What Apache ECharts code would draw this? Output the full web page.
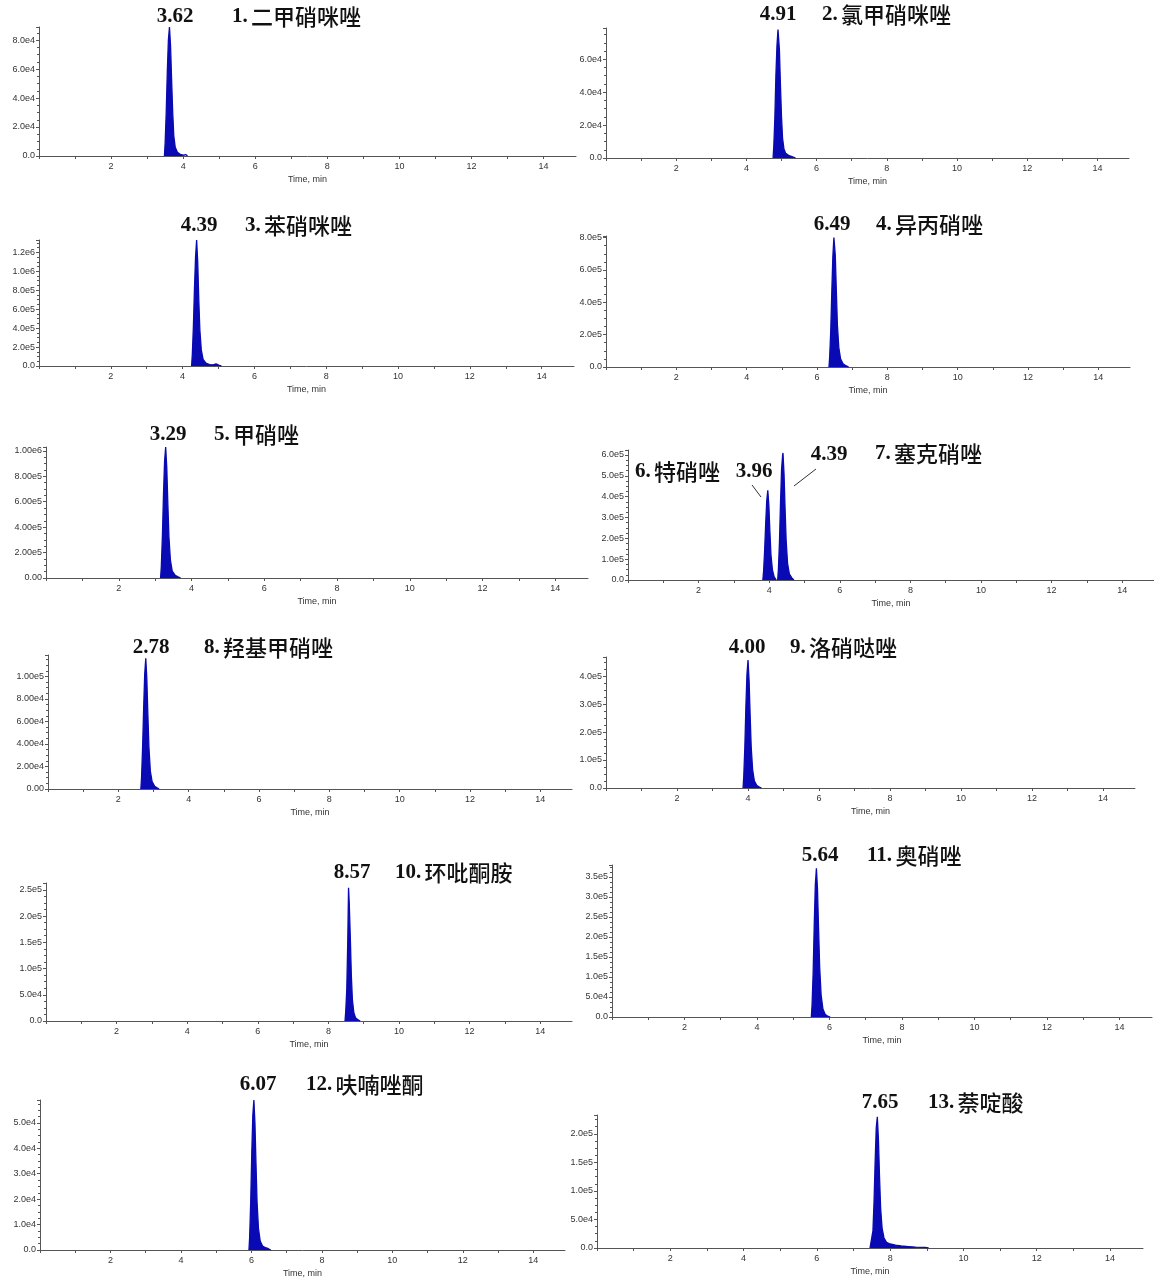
<!DOCTYPE html>
<html><head><meta charset="utf-8">
<script src="https://cdn.jsdelivr.net/npm/echarts@6/dist/echarts.min.js"></script>
<style>html,body{margin:0;padding:0;background:#fff}#c{width:1154px;height:1279px}</style>
</head><body><div id="c"></div>
<script>
// ---------- DATA ----------
const rtLabels = ['3.62','4.91','4.39','6.49','3.29','3.96','4.39','2.78','4.00','8.57','5.64','6.07','7.65'];
const compoundNo = ['1.','2.','3.','4.','5.','6.','7.','8.','9.','10.','11.','12.','13.'];
const compoundNames = ['二甲硝咪唑','氯甲硝咪唑','苯硝咪唑','异丙硝唑','甲硝唑','特硝唑','塞克硝唑','羟基甲硝唑','洛硝哒唑','环吡酮胺','奥硝唑','呋喃唑酮','萘啶酸'];
const xTickLabels = ['', '', '2', '', '4', '', '6', '', '8', '', '10', '', '12', '', '14'];
const xName = 'Time, min';

const t1 = [3.48,3.50,3.53,3.56,3.59,3.62,3.65,3.68,3.71,3.74,3.78,3.84,3.92,4.00,4.08,4.12];
const i1 = [0,9000,30000,58000,80000,89000,76000,52000,30000,14000,6000,2500,1200,600,900,0];
const t2 = [4.76,4.78,4.81,4.84,4.87,4.90,4.91,4.94,4.97,5.00,5.03,5.07,5.12,5.20,5.30,5.40];
const i2 = [0,7000,24000,50000,68000,78000,79000,66000,44000,25000,12000,5500,2800,1600,800,0];
const t3 = [4.25,4.27,4.30,4.33,4.36,4.39,4.42,4.45,4.48,4.52,4.57,4.65,4.75,4.85,4.93,4.97,5.02,5.08];
const i3 = [0,120000,420000,820000,1150000,1330000,1100000,700000,380000,170000,70000,30000,15000,12000,22000,20000,6000,0];
const t4 = [6.34,6.36,6.39,6.42,6.45,6.48,6.49,6.52,6.55,6.58,6.62,6.67,6.74,6.82,6.90];
const i4 = [0,60000,220000,460000,680000,800000,810000,690000,470000,260000,120000,50000,20000,8000,0];
const t5 = [3.15,3.17,3.20,3.23,3.26,3.29,3.32,3.35,3.38,3.42,3.47,3.55,3.63,3.70];
const i5 = [0,90000,330000,660000,920000,1030000,870000,580000,320000,140000,55000,22000,9000,0];
const t6 = [3.82,3.84,3.87,3.90,3.93,3.96,3.99,4.02,4.05,4.09,4.14,4.20];
const i6 = [0,40000,140000,270000,380000,430000,360000,230000,120000,50000,15000,0];
const t7 = [4.24,4.26,4.29,4.32,4.35,4.38,4.39,4.42,4.45,4.48,4.52,4.57,4.64,4.70];
const i7 = [0,50000,180000,370000,530000,600000,610000,510000,340000,190000,80000,30000,10000,0];
const t8 = [2.64,2.66,2.69,2.72,2.75,2.78,2.81,2.84,2.87,2.91,2.96,3.03,3.10,3.16];
const i8 = [0,10000,37000,72000,102000,116000,98000,66000,37000,16000,6500,2500,1000,0];
const t9 = [3.86,3.88,3.91,3.94,3.97,4.00,4.03,4.06,4.09,4.13,4.18,4.25,4.32,4.38];
const i9 = [0,40000,145000,290000,405000,457000,385000,260000,145000,65000,25000,9000,3000,0];
const t10 = [8.47,8.49,8.52,8.55,8.57,8.59,8.62,8.65,8.68,8.72,8.77,8.84,8.90];
const i10 = [0,18000,60000,160000,254000,225000,160000,85000,40000,16000,6000,2000,0];
const t11 = [5.50,5.52,5.55,5.58,5.61,5.64,5.67,5.70,5.73,5.77,5.82,5.88,5.95,6.02];
const i11 = [0,30000,110000,230000,330000,372000,320000,220000,125000,55000,20000,7000,2000,0];
const t12 = [5.93,5.95,5.98,6.01,6.04,6.07,6.10,6.13,6.16,6.20,6.25,6.32,6.40,6.48,6.55];
const i12 = [0,5000,19000,38000,53000,59000,50000,34000,19000,8500,3500,1500,900,500,0];
const t13 = [7.45,7.50,7.53,7.56,7.59,7.62,7.65,7.68,7.71,7.74,7.78,7.83,7.90,8.00,8.15,8.30,8.50,8.70,8.95,9.05];
const i13 = [0,3000,30000,80000,150000,210000,230000,190000,125000,70000,35000,18000,10000,7000,5000,3500,2500,1500,1200,0];

// y tick labels per panel
const yLabels1 = ['0.0','2.0e4','4.0e4','6.0e4','8.0e4'];
const yLabels2 = ['0.0','2.0e4','4.0e4','6.0e4'];
const yLabels3 = ['0.0','2.0e5','4.0e5','6.0e5','8.0e5','1.0e6','1.2e6'];
const yLabels4 = ['0.0','2.0e5','4.0e5','6.0e5','8.0e5'];
const yLabels5 = ['0.00','2.00e5','4.00e5','6.00e5','8.00e5','1.00e6'];
const yLabels6 = ['0.0','1.0e5','2.0e5','3.0e5','4.0e5','5.0e5','6.0e5'];
const yLabels8 = ['0.00','2.00e4','4.00e4','6.00e4','8.00e4','1.00e5'];
const yLabels9 = ['0.0','1.0e5','2.0e5','3.0e5','4.0e5'];
const yLabels10 = ['0.0','5.0e4','1.0e5','1.5e5','2.0e5','2.5e5'];
const yLabels11 = ['0.0','5.0e4','1.0e5','1.5e5','2.0e5','2.5e5','3.0e5','3.5e5'];
const yLabels12 = ['0.0','1.0e4','2.0e4','3.0e4','4.0e4','5.0e4'];
const yLabels13 = ['0.0','5.0e4','1.0e5','1.5e5','2.0e5'];
const yStep = [2e4,2e4,2e5,2e5,2e5,1e5,2e4,1e5,5e4,5e4,1e4,5e4];
const yMax  = [8.9e4,7.9e4,1.33e6,8.1e5,1.03e6,6.24e5,1.19e5,4.68e5,2.63e5,3.8e5,5.9e4,2.33e5];
const xMax = 14.9;

// ---------- LAYOUT ----------
const grids = [
  {left:39, top:27, width:537, height:129},
  {left:606, top:28, width:523, height:130},
  {left:39, top:240, width:535, height:126},
  {left:606, top:236, width:524, height:131},
  {left:46, top:447, width:542, height:131},
  {left:628, top:450, width:529, height:130},
  {left:48, top:655, width:524, height:134},
  {left:606, top:657, width:529, height:131},
  {left:46, top:883, width:526, height:138},
  {left:612, top:865, width:540, height:152},
  {left:40, top:1100, width:525, height:150},
  {left:597, top:1115, width:546, height:133}
];
const yLabelSets = [yLabels1,yLabels2,yLabels3,yLabels4,yLabels5,yLabels6,yLabels8,yLabels9,yLabels10,yLabels11,yLabels12,yLabels13];
const seriesSets = [[t1,i1,0],[t2,i2,1],[t3,i3,2],[t4,i4,3],[t5,i5,4],[t6,i6,5],[t7,i7,5],[t8,i8,6],[t9,i9,7],[t10,i10,8],[t11,i11,9],[t12,i12,10],[t13,i13,11]];
// text positions: retention-time label centre, compound name left/middle
const rtPos = [[175,17],[778,15],[199,226],[832,225],[168,435],[754,472],[829,455],[151,648],[747,648],[352,873],[820,856],[258,1085],[880,1103]];
const namePos = [[232,17],[822,15],[245,226],[876,225],[214,435],[635,472],[875,454],[204,648],[790,648],[395,873],[867,856],[306,1085],[928,1103]];

const BLUE = '#0a0ab4';
const AX = '#555';
const LBL = {fontFamily:'Liberation Sans, Arial, sans-serif', fontSize:9, color:'#333'};

const xAxes = grids.map((g,k)=>({
  type:'value', gridIndex:k, min:0, max:xMax, interval:1,
  name:xName, nameLocation:'middle', nameGap:19,
  nameTextStyle:{fontFamily:LBL.fontFamily, fontSize:9, color:'#333'},
  axisLine:{show:true, onZero:false, lineStyle:{color:AX, width:1}},
  axisTick:{show:true, length:3, lineStyle:{color:AX}},
  splitLine:{show:false},
  axisLabel:Object.assign({margin:6, showMaxLabel:false, formatter:(v)=>{
    const r=Math.round(v); return Math.abs(v-r)<1e-6 ? (xTickLabels[r]||'') : '';}}, LBL)
}));
const yAxes = grids.map((g,k)=>({
  type:'value', gridIndex:k, min:0, max:yMax[k], interval:yStep[k],
  axisLine:{show:true, lineStyle:{color:AX, width:1}},
  axisTick:{show:true, length:3, lineStyle:{color:AX}},
  minorTick:{show:true, splitNumber:4, length:2, lineStyle:{color:AX}},
  splitLine:{show:false},
  axisLabel:Object.assign({margin:4, showMaxLabel:false, formatter:(v)=>{
    const q=v/yStep[k], r=Math.round(q);
    return Math.abs(q-r)<1e-6 ? (yLabelSets[k][r]||'') : '';}}, LBL)
}));
const series = seriesSets.map(([t,i,k])=>({
  type:'line', xAxisIndex:k, yAxisIndex:k, symbol:'none', silent:true,
  data:t.map((x,j)=>[x,i[j]]),
  lineStyle:{color:BLUE, width:1.3}, areaStyle:{color:BLUE, opacity:1}
}));

const graphic = [];
rtLabels.forEach((s,j)=>{
  graphic.push({type:'text', style:{text:s, x:rtPos[j][0], y:rtPos[j][1],
    font:'bold 21px "Liberation Serif", serif', fill:'#111',
    align:'center', verticalAlign:'middle', textAlign:'center', textVerticalAlign:'middle'}});
});
compoundNames.forEach((s,j)=>{
  graphic.push({type:'text', style:{text:'{a|'+compoundNo[j]+'} {b|'+s+'}', x:namePos[j][0], y:namePos[j][1],
    align:'left', verticalAlign:'middle', textAlign:'left', textVerticalAlign:'middle',
    rich:{a:{fontFamily:'Liberation Serif', fontWeight:'bold', fontSize:21, fill:'#111', color:'#111'},
          b:{fontFamily:'Noto Sans CJK SC', fontWeight:500, fontSize:22, fill:'#111', color:'#111'}}}});
});
// leader lines for peaks 6 and 7
graphic.push({type:'line', shape:{x1:752,y1:485,x2:761,y2:497}, style:{stroke:'#333', lineWidth:1}});
graphic.push({type:'line', shape:{x1:816,y1:469,x2:794,y2:486}, style:{stroke:'#333', lineWidth:1}});

const chart = echarts.init(document.getElementById('c'));
chart.setOption({
  backgroundColor:'#fff', animation:false,
  grid:grids.map(g=>Object.assign({containLabel:false}, g)),
  xAxis:xAxes, yAxis:yAxes, series:series, graphic:graphic
});
</script></body></html>
